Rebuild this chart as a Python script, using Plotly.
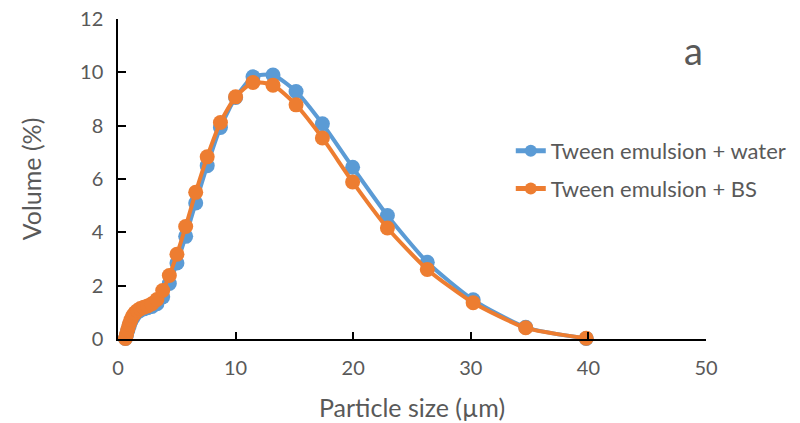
import plotly.graph_objects as go

# Particle size classes (µm), log-spaced
size_um = [0.631, 0.724, 0.832, 0.955, 1.096, 1.259, 1.445, 1.660, 1.905, 2.188,
           2.512, 2.884, 3.311, 3.802, 4.365, 5.012, 5.754, 6.607, 7.586, 8.710,
           10.00, 11.48, 13.18, 15.14, 17.38, 19.95, 22.91, 26.30, 30.20, 34.67, 39.81]

# Volume distribution (%)
vol_water = [0.02, 0.15, 0.32, 0.50, 0.66, 0.80, 0.92, 1.01, 1.08, 1.13,
             1.17, 1.22, 1.32, 1.58, 2.08, 2.85, 3.85, 5.10, 6.50, 7.93,
             9.06, 9.83, 9.90, 9.28, 8.07, 6.44, 4.63, 2.88, 1.47, 0.44, 0.02]
vol_bs = [0.02, 0.17, 0.36, 0.55, 0.72, 0.87, 0.98, 1.07, 1.14, 1.19,
          1.24, 1.32, 1.48, 1.82, 2.38, 3.18, 4.22, 5.50, 6.83, 8.12,
          9.08, 9.62, 9.52, 8.78, 7.54, 5.89, 4.16, 2.61, 1.36, 0.42, 0.03]

series_names = ["Tween emulsion + water", "Tween emulsion + BS"]
series_colors = ["#5B9BD5", "#ED7D31"]

x_ticks = [0, 10, 20, 30, 40, 50]
y_ticks = [0, 2, 4, 6, 8, 10, 12]

FONT = "Lato, 'Open Sans', sans-serif"
GREY = "#595959"

fig = go.Figure()
for i, (name, vals, color) in enumerate(zip(series_names, [vol_water, vol_bs], series_colors)):
    fig.add_trace(go.Scatter(
        x=size_um, y=vals, name=name, mode="lines+markers",
        legendgroup=f"g{i}",
        line=dict(color=color, width=4, shape="spline", smoothing=0.6),
        marker=dict(color=color, size=15),
        cliponaxis=False,
    ))

fig.update_layout(
    width=800, height=423,
    margin=dict(l=118, r=94, t=19, b=84, autoexpand=False),
    paper_bgcolor="white", plot_bgcolor="white",
    font=dict(family=FONT, color=GREY, size=20),
    showlegend=True,
    legend=dict(x=0.668, y=0.528, xanchor="left", yanchor="middle",
                bgcolor="rgba(0,0,0,0)", font=dict(size=22, color=GREY),
                tracegroupgap=6, itemsizing="constant"),
    xaxis=dict(range=[0, 50], tickvals=x_ticks, showgrid=False, zeroline=False,
               showline=True, linecolor="black", linewidth=1.5,
               ticks="inside", ticklen=7, tickcolor="black", tickwidth=1.5,
               ticklabelstandoff=10,
               tickfont=dict(size=20, color=GREY),
               title=dict(text="Particle size (µm)", font=dict(size=25, color=GREY), standoff=22)),
    yaxis=dict(range=[0, 12], tickvals=y_ticks, showgrid=False, zeroline=False,
               showline=True, linecolor="black", linewidth=1.5,
               ticks="inside", ticklen=8, tickcolor="black", tickwidth=1.5,
               ticklabelstandoff=9,
               tickfont=dict(size=20, color=GREY),
               title=dict(text="Volume (%)", font=dict(size=25, color=GREY), standoff=31)),
)

# panel label, positioned in pixels within the plotting area
plot_w = 800 - 118 - 94
plot_h = 423 - 19 - 84
fig.add_annotation(text="a", xref="paper", yref="paper",
                   x=(693 - 118) / plot_w, y=(339 - 50) / plot_h,
                   xanchor="center", yanchor="middle",
                   showarrow=False, font=dict(size=38, color=GREY))

fig.write_html("out.html")
